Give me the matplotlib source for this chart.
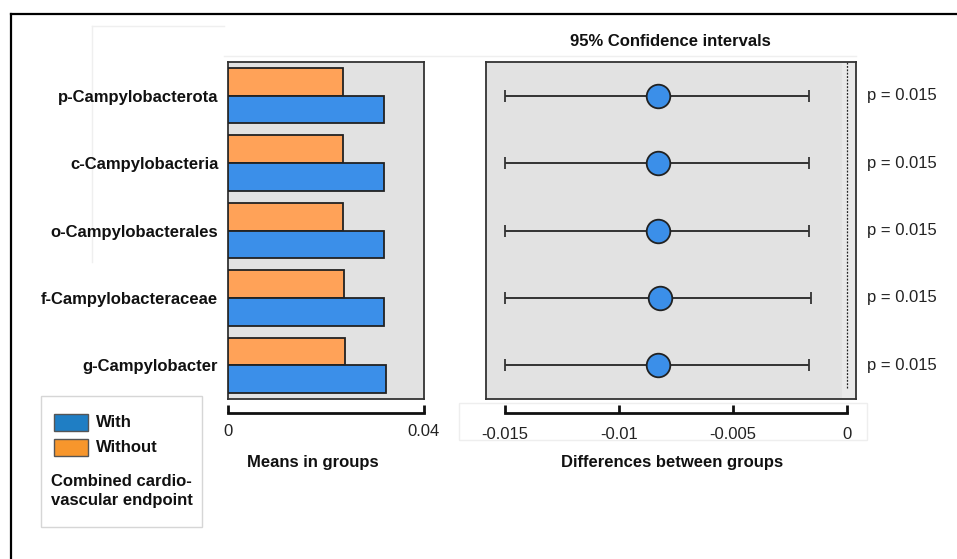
import matplotlib
matplotlib.use("Agg")
import matplotlib.pyplot as plt
import matplotlib.transforms as mtransforms
from matplotlib.patches import Rectangle
from matplotlib.lines import Line2D
import numpy as np

plt.rcParams['font.family'] = ['Liberation Sans', 'DejaVu Sans']

# ---------------- data ----------------
categories = ["p-Campylobacterota", "c-Campylobacteria", "o-Campylobacterales",
              "f-Campylobacteraceae", "g-Campylobacter"]
mean_with = [0.0318, 0.0318, 0.0318, 0.0319, 0.0322]
mean_without = [0.0235, 0.0234, 0.0234, 0.0236, 0.0239]
diff_mean = [-0.0083, -0.0083, -0.0083, -0.0082, -0.0083]
ci_low = [-0.0150, -0.0150, -0.0150, -0.0150, -0.0150]
ci_high = [-0.0017, -0.0017, -0.0017, -0.0016, -0.0017]
p_values = ["p = 0.015"] * 5
series_names = ["With", "Without"]
mean_ticks = [0, 0.04]
mean_ticklabels = ["0", "0.04"]
diff_ticks = [-0.015, -0.01, -0.005, 0]
diff_ticklabels = ["-0.015", "-0.01", "-0.005", "0"]

# ---------------- layout helpers ----------------
W, H = 957, 559
fig = plt.figure(figsize=(W / 100, H / 100), dpi=100)
fig.patch.set_facecolor("white")

def fx(px):
    return px / W

def fy(py):
    return 1 - py / H

def fw(px):
    return px / W

def fh(px):
    return px / H

BLUE = "#3b8fe9"
ORANGE = "#ffa258"
PANEL = "#e2e2e2"
EDGE = "#222222"
FS = 12

# outer frame (cropped at right and bottom)
fig.add_artist(Line2D([fx(11), fx(957)], [fy(14), fy(14)], transform=fig.transFigure,
                      color="black", lw=1.6))
fig.add_artist(Line2D([fx(11), fx(11)], [fy(14), fy(559)], transform=fig.transFigure,
                      color="black", lw=1.6))

# faint artifact lines (behind everything)
faint = "#efefef"
for (x0, y0, x1, y1) in [(92, 26, 224, 26), (92, 26, 92, 262), (224, 56, 856, 56)]:
    fig.add_artist(Line2D([fx(x0), fx(x1)], [fy(y0), fy(y1)], transform=fig.transFigure,
                          color=faint, lw=1, zorder=-5))
fig.add_artist(Rectangle((fx(459), fy(440)), fw(408), fh(37), transform=fig.transFigure,
                         fill=False, edgecolor="#eeeeee", lw=1, zorder=-5))

ypos = np.arange(len(categories))
bh = 0.41

# ---------------- left panel: means ----------------
ax1 = fig.add_axes([fx(228), fy(399), fw(196), fh(337)])
ax1.set_facecolor(PANEL)
ax1.barh(ypos - bh / 2, mean_without, height=bh, color=ORANGE, edgecolor=EDGE, lw=1.3,
         label=series_names[1], zorder=3)
ax1.barh(ypos + bh / 2, mean_with, height=bh, color=BLUE, edgecolor=EDGE, lw=1.3,
         label=series_names[0], zorder=3)
ax1.set_xlim(0, 0.04)
ax1.set_ylim(len(categories) - 0.5, -0.5)
ax1.set_xticks([])
ax1.set_yticks(ypos)
ax1.set_yticklabels(categories, fontsize=FS, fontweight="bold", color="#111111")
ax1.tick_params(axis="y", length=0, pad=7)
for s in ax1.spines.values():
    s.set_color("#333333")
    s.set_linewidth(1.3)

ax1t = fig.add_axes([fx(228), fy(413), fw(196), fh(8)])
ax1t.set_xlim(0, 0.04)
ax1t.patch.set_alpha(0)
for k in ["top", "left", "right"]:
    ax1t.spines[k].set_visible(False)
ax1t.spines["bottom"].set_linewidth(2.0)
ax1t.spines["bottom"].set_color("#111111")
ax1t.set_yticks([])
ax1t.set_xticks(mean_ticks)
ax1t.set_xticklabels(mean_ticklabels, fontsize=FS, color="#222222")
ax1t.tick_params(axis="x", direction="in", length=5.5, width=2.0, color="#111111", pad=8)

# ---------------- right panel: differences ----------------
xlo, xhi = -0.01584, 0.000367
ax2 = fig.add_axes([fx(485.7), fy(399), fw(370), fh(337)])
ax2.set_facecolor(PANEL)
ax2.axvspan(-0.00025, xhi, color="#e9e9e9", zorder=0, lw=0)
ax2.axvline(0, ymin=0.033, ymax=1, color="#222222", lw=0.9, ls=(0, (1.5, 1.2)), zorder=1)
means = np.array(diff_mean)
lo = np.array(ci_low)
hi = np.array(ci_high)
ax2.errorbar(means, ypos, xerr=[means - lo, hi - means], fmt="o", ms=17,
             mfc=BLUE, mec=EDGE, mew=1.3, ecolor="#333333", elinewidth=1.4,
             capsize=4.5, capthick=1.3, zorder=3)
ax2.set_xlim(xlo, xhi)
ax2.set_ylim(len(categories) - 0.5, -0.5)
ax2.set_xticks([])
ax2.set_yticks([])
for s in ax2.spines.values():
    s.set_color("#333333")
    s.set_linewidth(1.3)

trans = mtransforms.blended_transform_factory(ax2.transAxes, ax2.transData)
for yv, p in zip(ypos, p_values):
    ax2.text(1.03, yv, p, transform=trans, va="center", ha="left", fontsize=FS,
             color="#222222", clip_on=False)

ax2t = fig.add_axes([fx(485.7), fy(413), fw(370), fh(8)])
ax2t.set_xlim(xlo, xhi)
ax2t.patch.set_alpha(0)
for k in ["top", "left", "right"]:
    ax2t.spines[k].set_visible(False)
ax2t.spines["bottom"].set_linewidth(2.0)
ax2t.spines["bottom"].set_color("#111111")
ax2t.spines["bottom"].set_bounds(diff_ticks[0], diff_ticks[-1])
ax2t.set_yticks([])
ax2t.set_xticks(diff_ticks)
ax2t.set_xticklabels(diff_ticklabels, fontsize=FS, color="#222222")
ax2t.tick_params(axis="x", direction="in", length=5.5, width=2.0, color="#111111", pad=10)

# ---------------- titles ----------------
fig.text(fx(670.7), fy(41), "95% Confidence intervals", ha="center", va="center",
         fontsize=FS, fontweight="bold", color="#111111")
fig.text(fx(313), fy(462), "Means in groups", ha="center", va="center",
         fontsize=FS, fontweight="bold", color="#111111")
fig.text(fx(672), fy(462), "Differences between groups", ha="center", va="center",
         fontsize=FS, fontweight="bold", color="#111111")

# ---------------- legend ----------------
fig.add_artist(Rectangle((fx(40.7), fy(527.3)), fw(161), fh(131.6), transform=fig.transFigure,
                         facecolor="white", edgecolor="#d6d6d6", lw=1))
leg_colors = ["#1f7ec4", "#f7962c"]
leg_y = [422.5, 447.5]
for name, c, yy in zip(series_names, leg_colors, leg_y):
    fig.add_artist(Rectangle((fx(54.3), fy(yy + 8.3)), fw(34), fh(16.6),
                             transform=fig.transFigure, facecolor=c, edgecolor="#555555", lw=1))
    fig.text(fx(96), fy(yy), name, ha="left", va="center", fontsize=FS,
             fontweight="bold", color="#111111")
fig.text(fx(121.5), fy(481), "Combined cardio-", ha="center", va="center", fontsize=FS,
         fontweight="bold", color="#111111")
fig.text(fx(121.5), fy(500.5), "vascular endpoint", ha="center", va="center", fontsize=FS,
         fontweight="bold", color="#111111")

fig.savefig("out.png", dpi=100, facecolor="white")
